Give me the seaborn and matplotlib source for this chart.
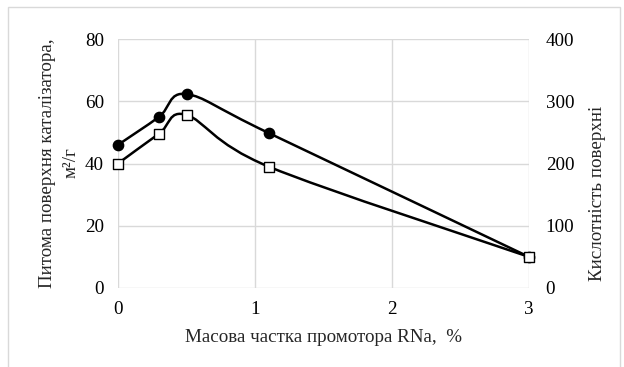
import matplotlib
matplotlib.use("Agg")
import matplotlib.pyplot as plt
import seaborn as sns
import numpy as np
import pandas as pd
from matplotlib.path import Path
from matplotlib.patches import PathPatch, Rectangle

# data
promoter = [0, 0.3, 0.5, 1.1, 3]
surface_area = [46, 55, 62.3, 49.8, 10]        # left axis, filled circles
acidity = [200, 248, 278, 195, 50]             # right axis, open squares
x_ticks = [0, 1, 2, 3]
left_ticks = [0, 20, 40, 60, 80]
right_ticks = [0, 100, 200, 300, 400]

sns.set_theme(style="white")
plt.rcParams['font.family'] = ['Liberation Serif', 'DejaVu Serif']

FS = 13.7
W, H = 624, 367
fig = plt.figure(figsize=(W / 100, H / 100), dpi=100)
fig.patch.set_facecolor('white')
ax = fig.add_axes([118 / W, 1 - 288 / H, (529 - 118) / W, (288 - 39) / H])
ax2 = ax.twinx()

grid_c = '#d9d9d9'
for a in (ax, ax2):
    for s in a.spines.values():
        s.set_visible(False)
    a.tick_params(length=0, labelsize=FS, colors='black')

ax.set_xlim(0, 3)
ax.set_ylim(0, 80)
ax2.set_ylim(0, 400)
ax.set_xticks(x_ticks)
ax.set_yticks(left_ticks)
ax2.set_yticks(right_ticks)
ax.grid(True, color=grid_c, linewidth=1.0)
ax.set_axisbelow(True)
ax.tick_params(axis='x', pad=9)
ax.tick_params(axis='y', pad=10)
ax2.tick_params(axis='y', pad=12)


def smooth_path(xs, ys):
    pts = np.column_stack([xs, ys]).astype(float)
    n = len(pts)
    verts = [pts[0]]
    codes = [Path.MOVETO]
    for i in range(n - 1):
        p0 = pts[i - 1] if i > 0 else pts[i]
        p1 = pts[i]
        p2 = pts[i + 1]
        p3 = pts[i + 2] if i + 2 < n else pts[i + 1]
        c1 = p1 + (p2 - p0) / 6.0
        c2 = p2 - (p3 - p1) / 6.0
        verts += [c1, c2, p2]
        codes += [Path.CURVE4] * 3
    return Path(verts, codes)


ax.add_patch(PathPatch(smooth_path(promoter, surface_area), fill=False,
                       edgecolor='black', linewidth=1.8, zorder=3))
ax2.add_patch(PathPatch(smooth_path(promoter, acidity), fill=False,
                        edgecolor='black', linewidth=1.8, zorder=3))

df1 = pd.DataFrame({'x': promoter, 'y': surface_area})
df2 = pd.DataFrame({'x': promoter, 'y': acidity})
sns.scatterplot(data=df1, x='x', y='y', ax=ax, marker='o', s=55,
                color='black', edgecolor='black', linewidth=1, zorder=4,
                clip_on=False)
sns.scatterplot(data=df2, x='x', y='y', ax=ax2, marker='s', s=55,
                color='white', edgecolor='black', linewidth=1, zorder=4,
                clip_on=False)

ax.set_xlim(0, 3)
ax.set_ylim(0, 80)
ax2.set_ylim(0, 400)
ax.set_xlabel('')
ax.set_ylabel('')
ax2.set_ylabel('')

fig.text(48 / W, 1 - 163 / H, 'Питома поверхня каталізатора,', rotation=90,
         ha='center', va='center', fontsize=FS)
fig.text(71 / W, 1 - 163 / H, 'м²/г', rotation=90,
         ha='center', va='center', fontsize=FS)
fig.text(598 / W, 1 - 193 / H, 'Кислотність поверхні', rotation=90,
         ha='center', va='center', fontsize=FS)
fig.text(323 / W, 1 - 337 / H, 'Масова частка промотора RNa,  %',
         ha='center', va='center', fontsize=FS)

fig.patches.append(Rectangle((8 / W, -0.1), (620 - 8) / W, 1.1 - 7 / H,
                             transform=fig.transFigure, fill=False,
                             edgecolor=grid_c, linewidth=1.0))

fig.savefig('out.png', dpi=100, facecolor='white')
